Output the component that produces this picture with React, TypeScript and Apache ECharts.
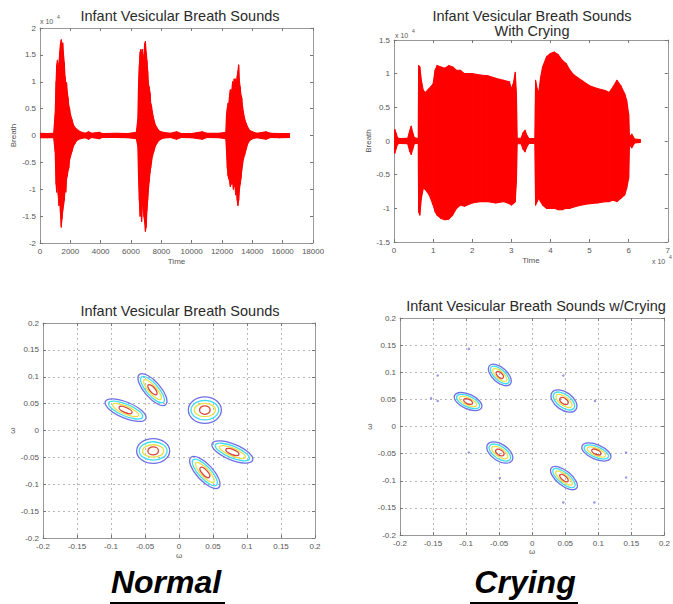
import React, { useEffect, useRef } from "react";
import * as echarts from "echarts";

// ---------- DATA ----------
// Normal breath sound waveform envelope: [time, min amplitude, max amplitude] (amplitude x 10^4)
const normalWave: number[][] = [
  [0, -0.04, 0.04], [500, -0.04, 0.035], [900, -0.04, 0.04], [1000, -0.3, 0.4],
  [1060, -0.9, 1.0], [1100, -1.05, 1.3], [1150, -0.8, 1.4], [1200, -1.1, 1.2],
  [1250, -1.3, 1.35], [1300, -1.2, 1.55], [1350, -1.45, 1.7], [1400, -1.7, 1.78],
  [1450, -1.55, 1.65], [1500, -1.4, 1.72], [1550, -1.3, 1.5], [1600, -1.2, 1.35],
  [1650, -1.0, 1.1], [1700, -1.05, 0.95], [1750, -0.8, 0.98], [1800, -0.75, 0.8],
  [1850, -0.65, 0.7], [1900, -0.6, 0.55], [1950, -0.45, 0.5], [2000, -0.4, 0.4],
  [2100, -0.3, 0.3], [2200, -0.2, 0.2], [2300, -0.15, 0.15], [2400, -0.1, 0.12],
  [2500, -0.08, 0.1], [2650, -0.06, 0.07], [3000, -0.04, 0.04], [3200, -0.07, 0.07],
  [3400, -0.035, 0.04], [3900, -0.06, 0.06], [4100, -0.035, 0.035], [5000, -0.035, 0.04],
  [5800, -0.04, 0.035], [6350, -0.06, 0.06], [6450, -0.2, 0.3], [6500, -0.8, 1.0],
  [6550, -1.2, 1.3], [6600, -1.5, 1.55], [6650, -1.4, 1.6], [6700, -1.6, 1.5],
  [6750, -1.3, 1.6], [6800, -1.2, 1.3], [6850, -1.5, 1.5], [6900, -1.6, 1.7],
  [6950, -1.78, 1.75], [7000, -1.7, 1.55], [7050, -1.4, 1.4], [7100, -1.2, 1.2],
  [7150, -1.0, 0.95], [7200, -0.85, 0.9], [7250, -0.7, 0.8], [7300, -0.6, 0.6],
  [7350, -0.5, 0.55], [7400, -0.4, 0.45], [7500, -0.3, 0.3], [7600, -0.2, 0.2],
  [7700, -0.15, 0.15], [7800, -0.1, 0.1], [7900, -0.08, 0.08], [8100, -0.05, 0.06],
  [8600, -0.035, 0.04], [9000, -0.07, 0.07], [9300, -0.035, 0.035], [10000, -0.04, 0.035],
  [10700, -0.07, 0.07], [11000, -0.035, 0.04], [11800, -0.04, 0.04], [12250, -0.06, 0.06],
  [12300, -0.3, 0.4], [12350, -0.6, 0.5], [12400, -0.75, 0.6], [12450, -0.8, 0.6],
  [12500, -0.85, 0.75], [12550, -0.95, 0.85], [12600, -0.9, 0.7], [12650, -0.9, 0.85],
  [12700, -0.85, 1.0], [12750, -1.0, 0.9], [12800, -0.95, 1.05], [12850, -0.9, 0.9],
  [12900, -1.1, 1.05], [12950, -1.0, 0.95], [13000, -1.2, 1.1], [13050, -1.3, 1.2],
  [13100, -1.2, 1.31], [13150, -1.0, 1.0], [13200, -0.9, 0.9], [13250, -0.8, 0.75],
  [13300, -0.65, 0.7], [13350, -0.55, 0.55], [13400, -0.45, 0.45], [13500, -0.35, 0.3],
  [13600, -0.25, 0.22], [13700, -0.15, 0.15], [13800, -0.1, 0.1], [14000, -0.06, 0.07],
  [14300, -0.04, 0.04], [14900, -0.07, 0.07], [15200, -0.035, 0.04], [15800, -0.04, 0.035],
  [16450, -0.035, 0.035],
];

// Crying waveform envelope: [time x 10^4, min, max] (amplitude x 10^4)
const cryingWave: number[][] = [
  [0.0, -0.04, 0.04], [0.02, -0.18, 0.17], [0.05, -0.12, 0.12], [0.09, -0.05, 0.05],
  [0.15, -0.035, 0.035], [0.35, -0.04, 0.04], [0.4, -0.15, 0.15], [0.44, -0.2, 0.22],
  [0.48, -0.12, 0.12], [0.52, -0.04, 0.05], [0.6, -0.035, 0.035], [0.62, -0.04, 0.04],
  [0.63, -1.05, 1.12], [0.66, -1.1, 1.1], [0.7, -0.85, 0.9], [0.75, -0.7, 0.75],
  [0.8, -0.72, 0.72], [0.9, -0.8, 0.78], [1.0, -0.95, 0.85], [1.05, -1.05, 1.05],
  [1.1, -1.1, 1.12], [1.2, -1.15, 1.1], [1.3, -1.17, 1.08], [1.4, -1.16, 1.12],
  [1.5, -1.1, 1.1], [1.6, -1.0, 1.05], [1.7, -0.95, 1.05], [1.8, -0.97, 1.0],
  [2.0, -0.92, 1.0], [2.2, -0.9, 0.98], [2.4, -0.9, 0.97], [2.6, -0.92, 0.93],
  [2.8, -0.9, 0.9], [2.95, -0.93, 0.88], [3.0, -0.95, 0.78], [3.05, -0.93, 0.85],
  [3.1, -0.9, 1.02], [3.13, -0.6, 0.7], [3.15, -0.04, 0.04], [3.25, -0.04, 0.04],
  [3.3, -0.12, 0.12], [3.35, -0.16, 0.16], [3.4, -0.08, 0.08], [3.45, -0.035, 0.035],
  [3.6, -0.035, 0.035], [3.62, -0.95, 0.9], [3.66, -0.9, 0.78], [3.7, -0.85, 0.72],
  [3.75, -0.9, 0.95], [3.8, -0.95, 1.1], [3.9, -1.0, 1.25], [4.0, -1.0, 1.3],
  [4.1, -1.0, 1.32], [4.2, -1.02, 1.28], [4.3, -1.02, 1.2], [4.4, -1.0, 1.15],
  [4.5, -1.0, 1.05], [4.6, -0.98, 0.98], [4.8, -0.95, 0.9], [5.0, -0.93, 0.82],
  [5.2, -0.92, 0.78], [5.4, -0.9, 0.75], [5.5, -0.9, 0.72], [5.6, -0.88, 0.8],
  [5.7, -0.9, 0.9], [5.8, -0.85, 0.82], [5.9, -0.8, 0.7], [5.95, -0.7, 0.6],
  [6.0, -0.55, 0.4], [6.02, -0.06, 0.06], [6.08, -0.1, 0.1], [6.15, -0.03, 0.03],
  [6.3, -0.02, 0.02],
];

// Contour blobs: [centre x, centre y, major half-axis dx, major half-axis dy, minor/major ratio]
const normalBlobs: number[][] = [
  [-0.039, 0.076, 0.0194, -0.028, 0.4],
  [-0.0785, 0.038, 0.0298, -0.016, 0.36],
  [0.038, 0.038, 0.0243, 0, 0.8],
  [-0.038, -0.038, 0.0243, 0, 0.75],
  [0.0785, -0.04, 0.0298, -0.0155, 0.36],
  [0.038, -0.078, 0.0205, -0.028, 0.4],
];
const cryingBlobs: number[][] = [
  [-0.049, 0.095, 0.0156, -0.0171, 0.53],
  [-0.097, 0.046, 0.0204, -0.0114, 0.49],
  [0.048, 0.047, 0.018, -0.0159, 0.6],
  [-0.049, -0.048, 0.0184, -0.0149, 0.57],
  [0.097, -0.047, 0.0216, -0.0112, 0.47],
  [0.048, -0.095, 0.0191, -0.0188, 0.45],
];
const cryingDots: number[][] = [
  [-0.143, 0.094], [-0.049, 0.142], [-0.096, 0.143], [-0.153, 0.052], [-0.143, 0.047],
  [0.047, 0.094], [0.095, 0.047], [-0.096, -0.048], [-0.049, -0.095], [0.142, -0.048],
  [0.142, -0.094], [0.047, -0.14], [0.094, -0.14],
];
// Contour levels (outer to inner): major and minor shrink factors
const contourMajorLevels = [1, 0.84, 0.64, 0.32];
const contourMinorLevels = [1, 0.74, 0.5, 0.32];

const titles = [
  "Infant Vesicular Breath Sounds",
  "Infant Vesicular Breath Sounds",
  "With Crying",
  "Infant Vesicular Breath Sounds",
  "Infant Vesicular Breath Sounds w/Crying",
];
const captions = ["Normal", "Crying"];

// ---------- STYLE ----------
const FONT = "Liberation Sans";
const contourColors = ["#6f6fe6", "#3fdcef", "#e8e04a", "#d8463a"];
const AXIS_COLOR = "#999";
const labelStyle = { fontSize: 8, color: "#555", fontFamily: FONT, margin: 4 };
const fmt = (v: number) => String(+Number(v).toFixed(4));

function xPair(gridIndex: number, min: number, max: number, interval: number, name: string, nameGap: number, grid: boolean) {
  const base: any = { type: "value", gridIndex, min, max, interval };
  return [
    {
      ...base, position: "bottom", name, nameLocation: "middle", nameGap,
      nameTextStyle: { fontSize: 8, color: "#555", fontFamily: FONT },
      axisLine: { show: true, onZero: false, lineStyle: { color: AXIS_COLOR } },
      axisTick: { show: true, inside: true, length: 3, lineStyle: { color: "#777" } },
      axisLabel: { ...labelStyle, formatter: fmt },
      splitLine: { show: grid, lineStyle: { color: "#b8b8b8", type: [2, 3], width: 1 } },
    },
    {
      ...base, position: "top",
      axisLine: { show: true, onZero: false, lineStyle: { color: AXIS_COLOR } },
      axisTick: { show: true, inside: true, length: 3, lineStyle: { color: "#777" } },
      axisLabel: { show: false }, splitLine: { show: false },
    },
  ];
}
function yPair(gridIndex: number, min: number, max: number, interval: number, name: string, nameGap: number, grid: boolean) {
  const base: any = { type: "value", gridIndex, min, max, interval };
  return [
    {
      ...base, position: "left", name, nameLocation: "middle", nameGap, nameRotate: 90,
      nameTextStyle: { fontSize: 8, color: "#555", fontFamily: FONT },
      axisLine: { show: true, onZero: false, lineStyle: { color: AXIS_COLOR } },
      axisTick: { show: true, inside: true, length: 3, lineStyle: { color: "#777" } },
      axisLabel: { ...labelStyle, formatter: fmt },
      splitLine: { show: grid, lineStyle: { color: "#b8b8b8", type: [2, 3], width: 1 } },
    },
    {
      ...base, position: "right",
      axisLine: { show: true, onZero: false, lineStyle: { color: AXIS_COLOR } },
      axisTick: { show: true, inside: true, length: 3, lineStyle: { color: "#777" } },
      axisLabel: { show: false }, splitLine: { show: false },
    },
  ];
}

const segments = (w: number[][]) => w.slice(1).map((p, i) => [w[i][0], w[i][1], w[i][2], p[0], p[1], p[2]]);
const contourData = (blobs: number[][]) => {
  const out: number[][] = [];
  blobs.forEach((b) => contourMajorLevels.forEach((_, li) => out.push([...b, li])));
  return out;
};

const envRender = (_p: any, api: any) => {
  const a = api.coord([api.value(0), api.value(2)]);
  const b = api.coord([api.value(3), api.value(5)]);
  const c = api.coord([api.value(3), api.value(4)]);
  const d = api.coord([api.value(0), api.value(1)]);
  return {
    type: "polygon", shape: { points: [a, b, c, d] },
    style: { fill: "#ff0000", stroke: "#ff0000", lineWidth: 1.1, lineJoin: "round" },
  };
};
const contourRender = (_p: any, api: any) => {
  const cx = api.value(0), cy = api.value(1), dx = api.value(2), dy = api.value(3), r = api.value(4), li = api.value(5);
  const c = api.coord([cx, cy]);
  const e = api.coord([cx + dx, cy + dy]);
  const vx = e[0] - c[0], vy = e[1] - c[1];
  const len = Math.hypot(vx, vy);
  return {
    type: "ellipse", x: c[0], y: c[1], rotation: -Math.atan2(vy, vx),
    shape: { cx: 0, cy: 0, rx: len * contourMajorLevels[li], ry: len * r * contourMinorLevels[li] },
    style: { fill: "none", stroke: contourColors[li], lineWidth: 1.3 },
  };
};

function txt(text: string, x: number, y: number, fontSize: number, extra: any = {}) {
  return {
    type: "text", x, y,
    style: { text, fontSize, fontFamily: FONT, fill: "#2a2a2a", textAlign: "center", textVerticalAlign: "middle", ...extra },
  };
}

function buildOption(): any {
  const xAxis = [
    ...xPair(0, 0, 18000, 2000, "Time", 14, false),
    ...xPair(1, 0, 7, 1, "Time", 14, false),
    ...xPair(2, -0.2, 0.2, 0.05, "ω", 13, true),
    ...xPair(3, -0.2, 0.2, 0.05, "ω", 12, true),
  ];
  const yAxis = [
    ...yPair(0, -2, 2, 0.5, "Breath", 23, false),
    ...yPair(1, -1.5, 1.5, 0.5, "Breath", 21, false),
    ...yPair(2, -0.2, 0.2, 0.05, "ω", 26, true),
    ...yPair(3, -0.2, 0.2, 0.05, "ω", 27, true),
  ];
  return {
    animation: false,
    backgroundColor: "#fff",
    grid: [
      { left: 40, top: 28, width: 273, height: 215 },
      { left: 394, top: 40, width: 276, height: 202 },
      { left: 43, top: 323, width: 272, height: 215 },
      { left: 400, top: 318, width: 272, height: 217 },
    ],
    xAxis,
    yAxis,
    series: [
      {
        type: "custom", xAxisIndex: 0, yAxisIndex: 0, renderItem: envRender, clip: true,
        encode: { x: [0, 3], y: [1, 2, 4, 5] }, data: segments(normalWave), silent: true,
      },
      {
        type: "custom", xAxisIndex: 2, yAxisIndex: 2, renderItem: envRender, clip: true,
        encode: { x: [0, 3], y: [1, 2, 4, 5] }, data: segments(cryingWave), silent: true,
      },
      {
        type: "custom", xAxisIndex: 4, yAxisIndex: 4, renderItem: contourRender, clip: true,
        encode: { x: 0, y: 1 }, data: contourData(normalBlobs), silent: true,
      },
      {
        type: "custom", xAxisIndex: 6, yAxisIndex: 6, renderItem: contourRender, clip: true,
        encode: { x: 0, y: 1 }, data: contourData(cryingBlobs), silent: true,
      },
      {
        type: "scatter", xAxisIndex: 6, yAxisIndex: 6, data: cryingDots, symbolSize: 2.5,
        itemStyle: { color: "#7b7be6" }, silent: true,
      },
    ],
    graphic: [
      txt(titles[0], 180, 16, 14.5),
      txt(titles[1], 532, 15.5, 14.5),
      txt(titles[2], 532, 30.5, 14.5),
      txt(titles[3], 180, 311, 14.5),
      txt(titles[4], 536, 306, 14.5),
      txt("x 10", 40, 21, 7, { textAlign: "left", fill: "#555" }),
      txt("4", 57, 17, 5, { textAlign: "left", fill: "#555" }),
      txt("x 10", 395, 35, 7, { textAlign: "left", fill: "#555" }),
      txt("4", 412, 31, 5, { textAlign: "left", fill: "#555" }),
      txt("x 10", 652, 261, 7, { textAlign: "left", fill: "#555" }),
      txt("4", 669, 257, 5, { textAlign: "left", fill: "#555" }),
      txt(captions[0], 166, 582, 32, { fontWeight: "bold", fontStyle: "italic", fill: "#000" }),
      txt(captions[1], 525, 582, 32, { fontWeight: "bold", fontStyle: "italic", fill: "#000" }),
      { type: "line", shape: { x1: 110, y1: 603, x2: 225, y2: 603 }, style: { stroke: "#000", lineWidth: 2.2 } },
      { type: "line", shape: { x1: 470, y1: 603, x2: 578, y2: 603 }, style: { stroke: "#000", lineWidth: 2.2 } },
    ],
  };
}

export default function App() {
  const ref = useRef<HTMLDivElement>(null);
  useEffect(() => {
    if (!ref.current) return;
    const chart = echarts.init(ref.current, null, { renderer: "svg" });
    chart.setOption(buildOption());
    return () => chart.dispose();
  }, []);
  return (
    <div
      ref={ref}
      style={{ position: "absolute", left: 0, top: 0, width: 673, height: 604, background: "#fff" }}
    />
  );
}
